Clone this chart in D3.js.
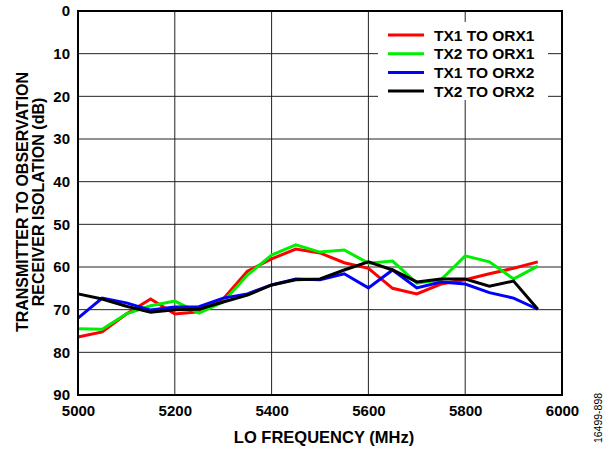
<!DOCTYPE html>
<html><head><meta charset="utf-8">
<script src="https://cdn.jsdelivr.net/npm/d3@7"></script>
<style>body{margin:0;background:#fff}svg{display:block}text{font-family:"Liberation Sans",Arial,sans-serif}</style>
</head><body><svg id="c" width="616" height="449"></svg>
<script>
const freqs = [5000,5050,5100,5150,5200,5250,5300,5350,5400,5450,5500,5550,5600,5650,5700,5750,5800,5850,5900,5950];
const tx1orx1 = [76.4,75.2,71.0,67.5,71.0,70.5,67.5,61.0,58.1,55.8,56.7,59.0,60.3,65.0,66.3,64.0,63.0,61.6,60.3,58.8];
const tx2orx1 = [74.5,74.6,71.0,69.1,68.0,70.8,68.2,61.9,57.2,54.8,56.5,56.0,59.1,58.6,63.8,63.0,57.4,58.8,62.8,59.8];
const tx1orx2 = [72.0,67.3,68.4,70.1,69.4,69.3,67.3,66.3,64.2,62.8,63.0,61.6,64.9,60.7,64.9,63.5,64.0,66.0,67.3,69.9];
const tx2orx2 = [66.3,67.5,69.2,70.6,70.0,69.9,68.2,66.6,64.2,63.0,62.8,60.7,58.8,60.7,63.5,62.8,62.8,64.5,63.3,69.9];
const seriesNames = ["TX1 TO ORX1","TX2 TO ORX1","TX1 TO ORX2","TX2 TO ORX2"];
const seriesColors = ["#ff0000","#00ee00","#0000ff","#000000"];
const xTicks = [5000,5200,5400,5600,5800,6000];
const yTicks = [0,10,20,30,40,50,60,70,80,90];

const svg = d3.select("#c");
const L=78,R=562,T=11,B=395;
const x = d3.scaleLinear().domain([5000,6000]).range([L,R]);
const y = d3.scaleLinear().domain([0,90]).range([T,B]);
const FONT = "Liberation Sans, Arial, sans-serif";

// grid
const g = svg.append("g");
g.selectAll("line.h").data(yTicks).enter().append("line")
 .attr("x1",L).attr("x2",R).attr("y1",d=>y(d)).attr("y2",d=>y(d))
 .attr("stroke","#222").attr("stroke-width",1);
g.selectAll("line.v").data(xTicks).enter().append("line")
 .attr("y1",T).attr("y2",B).attr("x1",d=>x(d)).attr("x2",d=>x(d))
 .attr("stroke","#222").attr("stroke-width",1);

// legend background
svg.append("rect").attr("x",378).attr("y",22).attr("width",170).attr("height",78).attr("fill","#fff");

// lines
const allSeries=[tx1orx1,tx2orx1,tx1orx2,tx2orx2];
const line = d3.line().x((d,i)=>x(freqs[i])).y(d=>y(d));
allSeries.forEach((s,k)=>{
  svg.append("path").datum(s).attr("d",line).attr("fill","none")
   .attr("stroke",seriesColors[k]).attr("stroke-width",3).attr("stroke-linejoin","miter");
});

// frame
svg.append("rect").attr("x",L).attr("y",T).attr("width",R-L).attr("height",B-T)
 .attr("fill","none").attr("stroke","#000").attr("stroke-width",2);

// axes
const yAxis = d3.axisLeft(y).tickValues(yTicks).tickSize(0).tickPadding(8);
const ya = svg.append("g").attr("transform",`translate(${L},0)`).call(yAxis);
ya.select(".domain").remove();
ya.selectAll("text").attr("font-size",15).attr("font-weight","bold").attr("font-family",FONT).attr("fill","#000");
const xAxis = d3.axisBottom(x).tickValues(xTicks).tickFormat(d3.format("d")).tickSize(0).tickPadding(10);
const xa = svg.append("g").attr("transform",`translate(0,${B})`).call(xAxis);
xa.select(".domain").remove();
xa.selectAll("text").attr("font-size",15).attr("font-weight","bold").attr("font-family",FONT).attr("fill","#000");

// titles
svg.append("text").attr("x",324).attr("y",443).attr("text-anchor","middle")
 .attr("font-size",16.5).attr("font-weight","bold").text("LO FREQUENCY (MHz)");
const yt = svg.append("text").attr("transform","translate(28,202) rotate(-90)")
 .attr("text-anchor","middle").attr("font-size",16).attr("font-weight","bold");
yt.append("tspan").attr("x",0).attr("y",0).text("TRANSMITTER TO OBSERVATION");
yt.append("tspan").attr("x",0).attr("y",15.5).text("RECEIVER ISOLATION (dB)");
svg.append("text").attr("transform","translate(602,418) rotate(-90)")
 .attr("text-anchor","middle").attr("font-size",10.5).text("16499-898");

// legend
const lg = svg.append("g");
seriesNames.forEach((n,k)=>{
  const yy = 35 + k*18.7;
  lg.append("line").attr("x1",388).attr("x2",424).attr("y1",yy).attr("y2",yy)
   .attr("stroke",seriesColors[k]).attr("stroke-width",3);
  lg.append("text").attr("x",434).attr("y",yy+5.5).attr("font-size",15.5).attr("font-weight","bold").text(n);
});
</script></body></html>
